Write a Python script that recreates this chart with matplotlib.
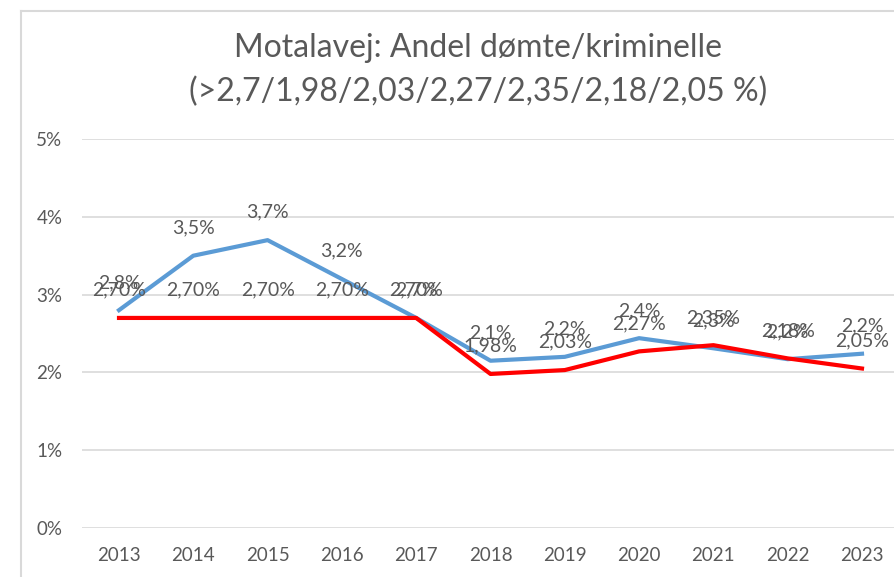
import matplotlib
matplotlib.use("Agg")
import matplotlib.pyplot as plt
from matplotlib.lines import Line2D

years = ["2013", "2014", "2015", "2016", "2017", "2018", "2019", "2020", "2021", "2022", "2023"]
blue_vals = [2.8, 3.5, 3.7, 3.2, 2.7, 2.15, 2.2, 2.44, 2.31, 2.17, 2.24]
red_vals = [2.70, 2.70, 2.70, 2.70, 2.70, 1.98, 2.03, 2.27, 2.35, 2.18, 2.05]
yticks = [0, 1, 2, 3, 4, 5]
ytick_labels = ["0%", "1%", "2%", "3%", "4%", "5%"]
title = "Motalavej: Andel dømte/kriminelle\n(>2,7/1,98/2,03/2,27/2,35/2,18/2,05 %)"

plt.rcParams['font.family'] = ['Lato', 'DejaVu Sans']
txt = '#595959'
grid = '#d9d9d9'

fig = plt.figure(figsize=(8.95, 5.77), dpi=100)
ax = fig.add_axes([81.85/895, 49/577, 817.3/895, 389/577])

x = list(range(len(years)))
ax.plot(x, blue_vals, color='#5b9bd5', lw=3, solid_joinstyle='round', zorder=3)
ax.plot(x, red_vals, color='#ff0000', lw=3, solid_joinstyle='round', zorder=4)

for xi, v in zip(x, blue_vals):
    ax.annotate(f"{v:.1f}%".replace('.', ','), (xi, v), xytext=(0, 20), textcoords='offset points',
                ha='center', va='center', fontsize=14, color=txt, zorder=5)
for xi, v in zip(x, red_vals):
    ax.annotate(f"{v:.2f}%".replace('.', ','), (xi, v), xytext=(0, 20), textcoords='offset points',
                ha='center', va='center', fontsize=14, color=txt, zorder=6)

ax.set_xlim(-0.5, len(years) - 0.5)
ax.set_ylim(0, 5)
ax.set_yticks(yticks)
ax.set_yticklabels(ytick_labels)
ax.set_xticks(x)
ax.set_xticklabels(years)
ax.tick_params(axis='both', length=0, colors=txt, labelsize=13.5)
ax.tick_params(axis='y', pad=14)
ax.tick_params(axis='x', pad=14)
ax.yaxis.grid(True, color=grid, lw=1.2)
ax.set_axisbelow(True)
for s in ax.spines.values():
    s.set_visible(False)
ax.patch.set_visible(False)

fig.text(478/895, 1 - 70/577, title, ha='center', va='center', fontsize=23, color=txt, linespacing=1.55)

fig.add_artist(Line2D([20.7/895, 20.7/895], [0, 1 - 11/577], color=grid, lw=1.5, transform=fig.transFigure))
fig.add_artist(Line2D([20.7/895, 1], [1 - 11/577, 1 - 11/577], color=grid, lw=1.5, transform=fig.transFigure))

fig.savefig("out.png", dpi=100)
